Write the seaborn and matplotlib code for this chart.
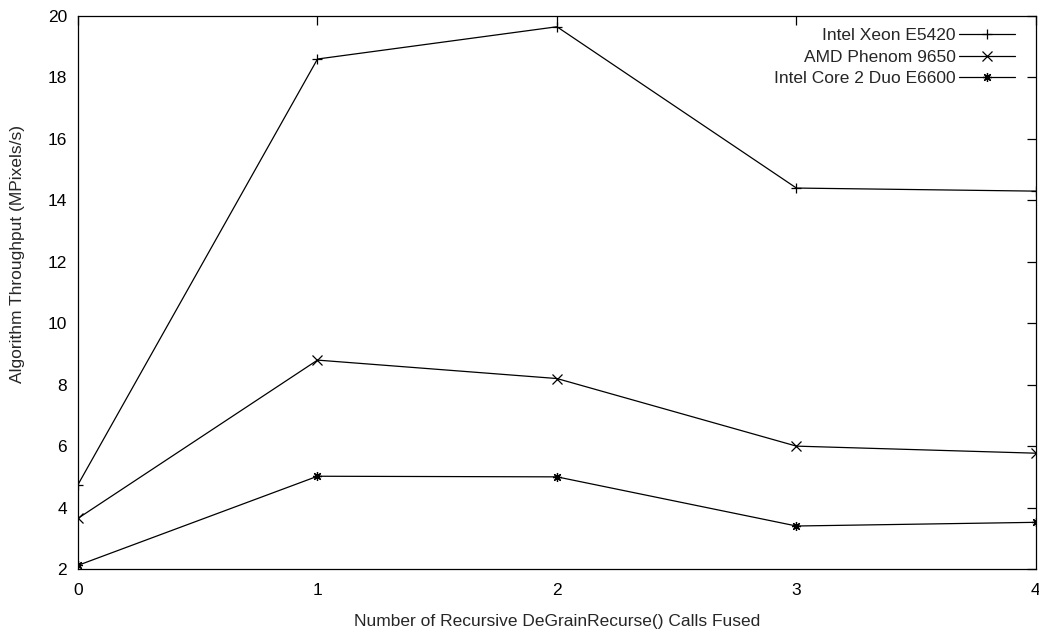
import matplotlib
matplotlib.use("Agg")
import matplotlib.pyplot as plt
import seaborn as sns
import pandas as pd

fused_calls = [0, 1, 2, 3, 4]
xeon_e5420 = [4.75, 18.6, 19.65, 14.4, 14.3]
amd_phenom_9650 = [3.65, 8.8, 8.2, 6.0, 5.77]
core2_duo_e6600 = [2.12, 5.02, 5.0, 3.4, 3.52]
series_names = ["Intel Xeon E5420", "AMD Phenom 9650", "Intel Core 2 Duo E6600"]
y_ticks = [2, 4, 6, 8, 10, 12, 14, 16, 18, 20]
x_ticks = [0, 1, 2, 3, 4]

sns.set_style("white")
plt.rcParams['font.family'] = ['Liberation Sans', 'DejaVu Sans']

df = pd.DataFrame({
    "x": fused_calls * 3,
    "y": xeon_e5420 + amd_phenom_9650 + core2_duo_e6600,
    "series": [series_names[0]] * 5 + [series_names[1]] * 5 + [series_names[2]] * 5,
})

fig = plt.figure(figsize=(10.39, 6.35), dpi=100)
ax = fig.add_axes([0.0751, 0.1039, 0.9219, 0.8709])

markers = {series_names[0]: "+", series_names[1]: "x", series_names[2]: (8, 2, 0)}
sns.lineplot(data=df, x="x", y="y", hue="series", style="series",
             palette=["black"] * 3, markers=markers, dashes=False,
             linewidth=0.9, markersize=6.5, markeredgewidth=0.9,
             markeredgecolor="black", ax=ax, legend=True)

fs = 12.5
ax.set_xlim(0, 4)
ax.set_ylim(2, 20)
ax.set_xticks(x_ticks)
ax.set_yticks(y_ticks)
ax.tick_params(axis="both", which="major", direction="in", length=6.5, width=0.9,
               top=True, right=True, labelsize=fs, colors="black")
ax.tick_params(axis="x", pad=10)
ax.tick_params(axis="y", pad=8)
for s in ax.spines.values():
    s.set_visible(True)
    s.set_color("black")
    s.set_linewidth(0.9)

ax.set_xlabel("Number of Recursive DeGrainRecurse() Calls Fused", fontsize=fs)
ax.set_ylabel("Algorithm Throughput (MPixels/s)", fontsize=fs)
ax.xaxis.set_label_coords(0.5, -0.081)
ax.yaxis.set_label_coords(-0.0627, 0.57)
ax.yaxis.label.set_verticalalignment("center")

handles, labels = ax.get_legend_handles_labels()
leg = ax.legend(handles, labels, loc="upper right", bbox_to_anchor=(0.978, 0.978),
                frameon=False, markerfirst=False, fontsize=fs,
                handlelength=3.2, handletextpad=0.2, labelspacing=0.36,
                borderaxespad=0, borderpad=0)

fig.savefig("out.png", dpi=100)
